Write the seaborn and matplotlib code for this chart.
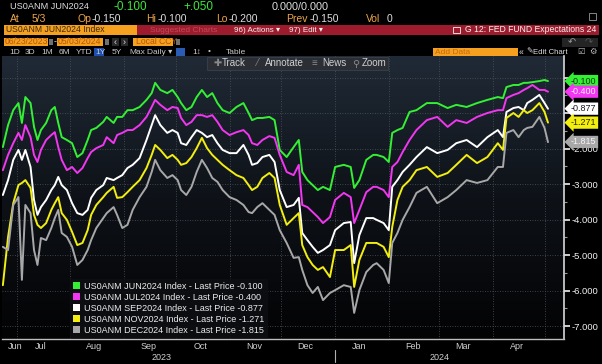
#!/usr/bin/env python3
"""
Bloomberg G chart recreation: USD OIS-implied Fed fund expectations
(US0ANM Jun/Jul/Sep/Nov/Dec 2024 meetings), 06/23/2023 - 05/03/2024.
"""
import numpy as np
import pandas as pd
import seaborn as sns
import matplotlib.pyplot as plt
import matplotlib.dates as mdates
import matplotlib.transforms as mtransforms
from matplotlib.colors import LinearSegmentedColormap
from matplotlib.patches import Rectangle, Patch
from matplotlib.ticker import FixedLocator, FixedFormatter, NullFormatter

# ---------------- data ----------------
dates = [
    "2023-06-23", "2023-06-26", "2023-06-29", "2023-07-02", "2023-07-04", "2023-07-06", "2023-07-09", "2023-07-11", "2023-07-13", "2023-07-15",
    "2023-07-18", "2023-07-21", "2023-07-23", "2023-07-25", "2023-07-27", "2023-07-30", "2023-08-02", "2023-08-05", "2023-08-08", "2023-08-11",
    "2023-08-13", "2023-08-16", "2023-08-20", "2023-08-22", "2023-08-26", "2023-08-28", "2023-08-31", "2023-09-03", "2023-09-06", "2023-09-10",
    "2023-09-14", "2023-09-17", "2023-09-19", "2023-09-22", "2023-09-26", "2023-09-29", "2023-10-02", "2023-10-04", "2023-10-07", "2023-10-10",
    "2023-10-13", "2023-10-16", "2023-10-19", "2023-10-22", "2023-10-25", "2023-10-28", "2023-11-01", "2023-11-05", "2023-11-09", "2023-11-12",
    "2023-11-14", "2023-11-17", "2023-11-20", "2023-11-24", "2023-11-27", "2023-11-30", "2023-12-04", "2023-12-08", "2023-12-11", "2023-12-13",
    "2023-12-16", "2023-12-19", "2023-12-22", "2023-12-25", "2023-12-29", "2024-01-01", "2024-01-06", "2024-01-10", "2024-01-12", "2024-01-15",
    "2024-01-19", "2024-01-23", "2024-01-25", "2024-01-29", "2024-02-01", "2024-02-03", "2024-02-06", "2024-02-09", "2024-02-13", "2024-02-17",
    "2024-02-23", "2024-02-29", "2024-03-06", "2024-03-11", "2024-03-17", "2024-03-23", "2024-03-29", "2024-04-04", "2024-04-07", "2024-04-09",
    "2024-04-13", "2024-04-16", "2024-04-19", "2024-04-21", "2024-04-24", "2024-04-28", "2024-05-01", "2024-05-03",
]

jun2024 = [
    -1.96, -1.34, -0.92, -0.72, -1.28, -0.55, -0.72, -1.39, -1.76, -1.48,
    -1.28, -0.92, -0.83, -1.28, -1.68, -1.76, -1.85, -2.24, -2.13, -1.76,
    -1.48, -1.42, -1.25, -1.11, -1.28, -1.11, -1.11, -0.92, -0.92, -0.83,
    -0.63, -0.44, -0.15, -0.35, -0.44, -0.35, -0.55, -0.72, -0.92, -0.83,
    -0.55, -0.35, -0.55, -0.44, -0.72, -0.92, -1.00, -0.83, -0.72, -1.00,
    -1.20, -1.14, -1.14, -1.11, -1.20, -2.04, -2.24, -1.96, -1.76, -2.66,
    -2.89, -3.03, -3.17, -3.08, -3.17, -2.52, -2.46, -2.52, -3.11, -2.89,
    -2.32, -2.18, -2.18, -2.24, -2.38, -1.56, -1.48, -1.42, -0.97, -0.92,
    -0.72, -0.72, -0.86, -0.77, -0.83, -0.72, -0.63, -0.55, -0.58, -0.27,
    -0.21, -0.21, -0.15, -0.15, -0.13, -0.10, -0.07, -0.10,
]
jul2024 = [
    -2.61, -2.18, -1.85, -1.56, -1.76, -1.34, -1.68, -2.18, -2.38, -2.04,
    -1.76, -1.62, -1.54, -1.96, -2.32, -2.61, -2.52, -2.69, -2.55, -2.27,
    -2.10, -1.99, -1.90, -1.68, -1.85, -1.62, -1.56, -1.48, -1.48, -1.34,
    -1.11, -0.83, -0.63, -0.77, -0.92, -0.83, -0.86, -1.14, -1.34, -1.25,
    -1.06, -1.06, -1.11, -1.06, -1.25, -1.48, -1.62, -1.54, -1.48, -1.62,
    -1.85, -1.90, -1.76, -1.65, -1.70, -2.18, -2.66, -2.75, -2.46, -3.59,
    -3.65, -3.79, -3.93, -4.10, -3.93, -3.45, -3.25, -3.37, -4.10, -3.73,
    -3.23, -3.08, -3.08, -3.17, -3.37, -2.52, -2.38, -2.10, -1.76, -1.48,
    -1.20, -1.11, -1.39, -1.20, -1.28, -1.11, -1.00, -0.92, -0.92, -0.58,
    -0.49, -0.44, -0.35, -0.30, -0.21, -0.35, -0.35, -0.40,
]
sep2024 = [
    -3.31, -2.89, -2.32, -2.04, -2.32, -2.04, -2.52, -3.45, -3.87, -3.65,
    -3.45, -3.17, -3.03, -2.80, -3.03, -3.17, -3.54, -3.82, -3.87, -3.73,
    -3.39, -3.17, -3.03, -2.83, -2.89, -2.83, -2.75, -2.55, -2.46, -2.27,
    -1.76, -1.34, -1.06, -1.34, -1.56, -1.48, -1.56, -1.85, -1.90, -1.68,
    -1.48, -1.56, -1.68, -1.62, -1.85, -2.04, -2.13, -2.13, -1.90, -2.18,
    -2.46, -2.41, -2.24, -2.18, -2.38, -3.17, -3.65, -3.59, -3.39, -4.38,
    -4.58, -4.77, -4.94, -4.86, -4.72, -4.30, -4.10, -4.07, -5.23, -4.44,
    -3.96, -3.96, -4.01, -4.10, -4.30, -3.08, -2.89, -2.66, -2.46, -2.24,
    -1.96, -2.13, -2.04, -1.85, -1.76, -1.96, -1.68, -1.48, -1.68, -0.97,
    -0.86, -0.83, -0.92, -0.72, -0.63, -0.49, -0.72, -0.88,
]
nov2024 = [
    -5.85, -4.49, -3.54, -3.03, -2.97, -2.89, -3.11, -3.87, -4.15, -4.24,
    -4.10, -3.73, -3.54, -3.37, -3.82, -4.01, -4.35, -4.72, -4.66, -4.30,
    -3.87, -3.59, -3.37, -3.25, -3.08, -3.39, -3.37, -3.23, -3.08, -2.89,
    -2.55, -2.18, -1.90, -2.04, -2.27, -2.18, -2.32, -2.46, -2.41, -2.24,
    -1.99, -1.70, -1.99, -2.18, -2.32, -2.46, -2.61, -2.75, -2.83, -3.03,
    -3.17, -3.08, -2.83, -2.69, -2.83, -3.59, -4.15, -3.96, -3.82, -4.72,
    -5.06, -5.28, -5.42, -5.34, -5.62, -4.86, -4.86, -4.72, -5.90, -5.14,
    -4.66, -4.66, -4.66, -4.77, -5.06, -4.21, -3.45, -3.08, -2.89, -2.61,
    -2.52, -2.80, -2.69, -2.46, -2.18, -2.41, -2.24, -1.85, -2.04, -1.14,
    -1.00, -1.11, -0.92, -1.00, -0.92, -0.72, -0.97, -1.27,
]
dec2024 = [
    -4.77, -4.86, -3.59, -3.37, -5.70, -3.59, -3.82, -4.86, -5.28, -4.52,
    -4.58, -4.24, -3.96, -3.73, -4.38, -4.49, -4.77, -5.28, -5.14, -4.86,
    -4.58, -4.24, -3.96, -3.82, -3.65, -3.87, -4.24, -4.15, -3.73, -3.37,
    -3.08, -2.66, -2.32, -2.61, -2.83, -2.75, -2.89, -3.17, -3.31, -3.08,
    -2.66, -2.32, -2.55, -2.83, -2.94, -3.17, -3.37, -3.45, -3.59, -3.79,
    -3.82, -3.65, -3.54, -3.73, -3.87, -4.30, -4.66, -5.08, -5.06, -5.42,
    -5.85, -6.07, -5.90, -6.27, -6.07, -5.99, -5.85, -5.90, -6.63, -5.99,
    -5.48, -5.28, -5.23, -5.42, -5.79, -4.66, -4.38, -4.01, -3.65, -3.25,
    -3.08, -3.54, -3.37, -3.17, -2.89, -2.97, -2.89, -2.52, -2.52, -1.56,
    -1.48, -1.68, -1.48, -1.42, -1.39, -1.11, -1.42, -1.82,
]

series_names = [
    "US0ANM JUN2024 Index", "US0ANM JUL2024 Index", "US0ANM SEP2024 Index",
    "US0ANM NOV2024 Index", "US0ANM DEC2024 Index",
]
last_prices = [-0.100, -0.400, -0.877, -1.271, -1.815]
line_colors = ["#34f034", "#f236f2", "#ffffff", "#f2ee10", "#a8a8a8"]
tag_text_colors = ["#0b3d0b", "#fff0ff", "#1a1a1a", "#2e2a00", "#f4f4f4"]

month_labels = ["Jun", "Jul", "Aug", "Sep", "Oct", "Nov", "Dec", "Jan", "Feb", "Mar", "Apr"]
month_label_dates = [
    "2023-06-30", "2023-07-15", "2023-08-15", "2023-09-15", "2023-10-15", "2023-11-15",
    "2023-12-15", "2024-01-15", "2024-02-15", "2024-03-15", "2024-04-15",
]
year_labels = ["2023", "2024"]
y_ticks = [0, -1, -2, -3, -4, -5, -6, -7]

W, H = 602, 364
AMBER = "#eea54c"
ORANGE = "#f5a01f"
LIGHT = "#dedede"


def fx(x):
    return x / W


def fy(y):
    return 1 - y / H


def rect(fig, x0, y0, x1, y1, fc, ec="none", z=2):
    fig.add_artist(Rectangle((fx(x0), fy(y1)), (x1 - x0) / W, (y1 - y0) / H,
                             transform=fig.transFigure, fc=fc, ec=ec, lw=0.6, zorder=z))


def label(fig, x, y, s, color, size=7, ha="left", **kw):
    fig.text(fx(x), fy(y), s, color=color, fontsize=size, ha=ha, va="center", zorder=4, **kw)


def draw_header(fig):
    # quote line
    label(fig, 10, 6.5, "US0ANM JUN2024", LIGHT, 6.6)
    label(fig, 113, 6.5, "-0.100", "#3ae83a", 8.5)
    label(fig, 183, 6.5, "+.050", "#3ae83a", 8.5)
    label(fig, 272, 6.5, "0.000/0.000", LIGHT, 7.8)
    label(fig, 10, 18.5, "At", AMBER, 7.5)
    label(fig, 32, 18.5, "5/3", AMBER, 7.5)
    for x, key, xv, val in [(77, "Op", 92, "-0.150"), (146, "Hi", 158, "-0.100"),
                            (216, "Lo", 229, "-0.200"), (286, "Prev", 310, "-0.150"),
                            (366, "Vol", 387, "0")]:
        label(fig, x, 18.5, key, AMBER, 7.5)
        label(fig, xv, 18.5, val, LIGHT, 7.5)
    rect(fig, 589, 13, 596, 20, "none", ec="#9a9a9a")

    # security / menu bar
    rect(fig, 4, 25, 137, 35, ORANGE)
    label(fig, 6, 30, "US0ANM JUN2024 Index", "#3a2810", 6.2)
    rect(fig, 137, 25, 599, 35, "#9e1b2d")
    label(fig, 150, 30, "Suggested Charts", "#c04a5a", 6)
    label(fig, 234, 30, "96) Actions \u25be", "#f2f2f2", 5.8)
    label(fig, 289, 30, "97) Edit \u25be", "#f2f2f2", 5.8)
    rect(fig, 453, 27, 460, 33, "none", ec="#f2f2f2")
    label(fig, 465, 30, "G 12: FED FUND Expectations 24", "#f2f2f2", 6.2)

    # date range row
    rect(fig, 4, 38, 48, 46, ORANGE)
    label(fig, 5, 42, "06/23/2023", "#b5560a", 6.2)
    rect(fig, 49, 39, 53, 45, "#707070")
    label(fig, 54, 42, "-", LIGHT, 6.5)
    rect(fig, 57, 38, 103, 46, ORANGE)
    label(fig, 58, 42, "05/03/2024", "#b5560a", 6.2)
    rect(fig, 105, 39, 109, 45, "#707070")
    rect(fig, 112, 38, 119, 46, "#2a2a2a")
    label(fig, 113.5, 42, "\u2039", LIGHT, 6.5)
    rect(fig, 121, 38, 128, 46, "#2a2a2a")
    label(fig, 122.5, 42, "\u203a", LIGHT, 6.5)
    rect(fig, 133, 38, 173, 46, ORANGE)
    label(fig, 136, 42, "Local CCY", "#b5560a", 6.2)
    rect(fig, 176, 39, 180, 45, "#707070")
    rect(fig, 562, 38, 598, 47, "#242424")
    label(fig, 568, 42, "\u21b6", "#9a9a9a", 7)
    label(fig, 585, 42, "\u21b7", "#555555", 7)

    # period buttons row
    rect(fig, 94, 48, 104, 56, "#1f4fae")
    for x, s in [(9, "1D"), (25, "3D"), (41, "1M"), (59, "6M"), (76, "YTD"), (95, "1Y"),
                 (112, "5Y"), (129, "Max"), (147, "Daily \u25be"), (192, "1\u2195"),
                 (208, "\u2022"), (226, "Table")]:
        label(fig, x, 52, s, "#c8c8c8", 6)
    rect(fig, 176, 48, 185, 56, "#2a5bb5")
    rect(fig, 433, 48, 518, 56, ORANGE)
    label(fig, 435, 52, "Add Data", "#c66a12", 6)
    label(fig, 519, 52, "\u00ab", LIGHT, 6.2)
    label(fig, 526, 52, "\u270e", LIGHT, 5.6)
    label(fig, 533, 52, "Edit Chart", LIGHT, 5.6)
    label(fig, 577, 52, "\u2611", "#bdbdbd", 6)
    label(fig, 589, 52, "\u2699", "#bdbdbd", 6)

    # chart toolbar
    rect(fig, 207, 57, 388, 70, "#2b2f35", ec="#3c4148")
    for x, s, c in [(213, "\u271a", "#8a8a8a"), (222, "Track", "#d0d0d0"),
                    (257, "\u2044", "#8a8a8a"), (265, "Annotate", "#d0d0d0"),
                    (311, "\u2261", "#8a8a8a"), (322, "News", "#d0d0d0"),
                    (352, "\u26b2", "#8a8a8a"), (362, "Zoom", "#d0d0d0")]:
        label(fig, x, 63.5, s, c, 7)


def main():
    sns.set_style("dark")
    plt.rcParams["font.family"] = ["Liberation Sans", "DejaVu Sans"]

    fig = plt.figure(figsize=(W / 100, H / 100), dpi=100, facecolor="black")
    box = [fx(2), fy(339), (564 - 2) / W, (339 - 56) / H]

    # gradient chart background
    bg = fig.add_axes(box, zorder=0)
    cmap = LinearSegmentedColormap.from_list("bbg", ["#030304", "#0e1218", "#202a36"])
    bg.imshow(np.linspace(0, 1, 256).reshape(-1, 1), aspect="auto", cmap=cmap,
              origin="lower", extent=[0, 1, 0, 1])
    bg.set_axis_off()

    ax = fig.add_axes(box, zorder=1)
    ax.set_facecolor("none")

    frame = pd.DataFrame({"date": pd.to_datetime(dates)})
    for name, vals in zip(series_names, [jun2024, jul2024, sep2024, nov2024, dec2024]):
        frame[name] = vals
    frame = frame.melt(id_vars="date", var_name="series", value_name="value")

    sns.lineplot(data=frame, x="date", y="value", hue="series", hue_order=series_names,
                 palette=line_colors, linewidth=1.4, legend=False, estimator=None, ax=ax)

    ax.set_xlim(pd.Timestamp("2023-06-22 12:00"), pd.Timestamp("2024-05-12 06:00"))
    ax.set_ylim(-7.366, 0.606)
    ax.set_xlabel("")
    ax.set_ylabel("")

    for side in ["top", "left"]:
        ax.spines[side].set_visible(False)
    ax.spines["right"].set_color("#d8d8d8")
    ax.spines["right"].set_linewidth(1.2)
    ax.spines["bottom"].set_color("#bdbdbd")
    ax.spines["bottom"].set_linewidth(1.0)

    # right-hand value axis; 0 and -1 sit under the last-price tags
    ax.yaxis.tick_right()
    ax.set_yticks(y_ticks)
    ax.set_yticklabels(["" if v > -2 else f"{v:.3f}" for v in y_ticks])
    ax.yaxis.set_minor_locator(FixedLocator([v - 0.5 for v in y_ticks]))
    ax.tick_params(axis="y", which="major", colors="#f0f0f0", labelsize=6.8,
                   length=4, width=1.2, pad=1.5, direction="out")
    ax.tick_params(axis="y", which="minor", color="#9a9a9a", length=2, width=0.8)

    # month axis: boundaries as ticks, names centred inside each month
    ax.xaxis.set_major_locator(mdates.MonthLocator())
    ax.xaxis.set_major_formatter(NullFormatter())
    ax.xaxis.set_minor_locator(FixedLocator(mdates.date2num(pd.to_datetime(month_label_dates))))
    ax.xaxis.set_minor_formatter(FixedFormatter(month_labels))
    ax.tick_params(axis="x", which="major", color="#9a9a9a", length=3, width=0.8)
    ax.tick_params(axis="x", which="minor", length=0, labelsize=6.5,
                   labelcolor="#cfcfcf", pad=2)

    ax.grid(True, which="major", axis="both", color="#4e555e",
            linestyle=(0, (1, 2)), linewidth=0.6)

    label(fig, 162, 357, year_labels[0], "#cfcfcf", 6.5, ha="center")
    label(fig, 440, 357, year_labels[1], "#cfcfcf", 6.5, ha="center")
    sep = mtransforms.blended_transform_factory(ax.transData, ax.transAxes)
    jan1 = mdates.date2num(pd.Timestamp("2024-01-01"))
    ax.plot([jan1, jan1], [-0.039, -0.083], transform=sep, color="#b0b0b0",
            lw=0.8, clip_on=False)

    # last-price tags on the value axis
    tag = mtransforms.blended_transform_factory(ax.transAxes, ax.transData)
    for price, c, tc in zip(last_prices, line_colors, tag_text_colors):
        ax.text(1.0125, price, f"{price:.3f}", transform=tag, ha="left", va="center",
                fontsize=6.5, color=tc, zorder=6, clip_on=False,
                bbox=dict(boxstyle="larrow,pad=0.18", fc=c, ec="none"))

    handles = [Patch(facecolor=c, edgecolor="none") for c in line_colors]
    labels = [f"{n} - Last Price {p:.3f}" for n, p in zip(series_names, last_prices)]
    ax.legend(handles, labels, loc="upper left", bbox_to_anchor=(0.121, 0.212),
              frameon=True, fancybox=False, facecolor="#0c0e11", edgecolor="#0c0e11",
              framealpha=0.92, fontsize=6.5, labelcolor="#ececec", handlelength=0.8,
              handleheight=0.8, handletextpad=0.4, labelspacing=0.22, borderpad=0.3,
              borderaxespad=0.0)

    draw_header(fig)

    fig.savefig("out.png", dpi=100, facecolor="black")
    plt.close(fig)


if __name__ == "__main__":
    main()
